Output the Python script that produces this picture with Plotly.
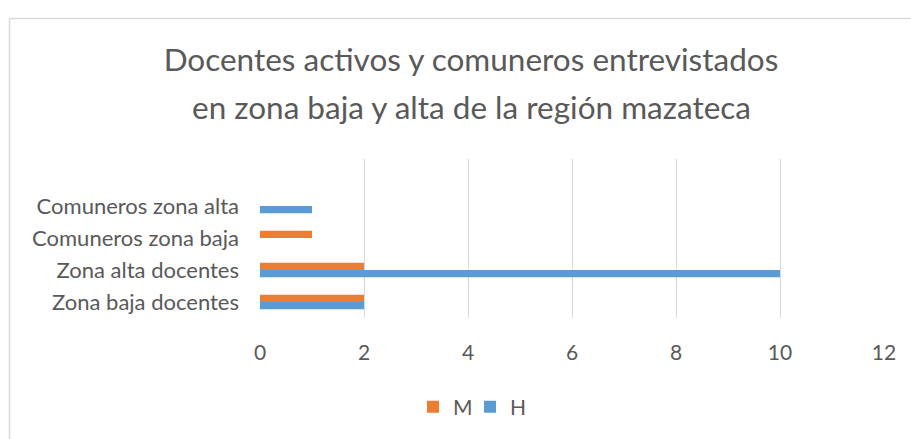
import plotly.graph_objects as go

categories = ["Zona baja docentes", "Zona alta docentes", "Comuneros zona baja", "Comuneros zona alta"]
M_values = [2, 2, 1, 0]
H_values = [2, 10, 0, 1]
x_ticks = [0, 2, 4, 6, 8, 10, 12]
title_lines = ["Docentes activos y comuneros entrevistados",
               "en zona baja y alta de la región mazateca"]

ORANGE = "#ED7D31"
BLUE = "#5B9BD5"
TEXT = "#595959"
FONT = "Lato"

fig = go.Figure()
fig.add_trace(go.Bar(name="H", y=categories, x=H_values, orientation="h",
                     marker=dict(color=BLUE, line=dict(width=0))))
fig.add_trace(go.Bar(name="M", y=categories, x=M_values, orientation="h",
                     marker=dict(color=ORANGE, line=dict(width=0))))

W, H = 911, 439
L, R, T, B = 260, 884, 159, 323

def px_x(p):
    return (p - L) / (R - L)

def px_y(p):
    return (B - p) / (B - T)

fig.update_layout(
    width=W, height=H,
    margin=dict(l=L, r=W - R, t=T, b=H - B),
    paper_bgcolor="white", plot_bgcolor="white",
    barmode="group", bargap=0.55, bargroupgap=0,
    font=dict(family=FONT, color=TEXT, size=22),
    title=dict(text=title_lines[0],
               x=471 / W, xanchor="center", y=1 - 60 / H, yanchor="middle",
               font=dict(family=FONT, size=31.5, color=TEXT)),
    xaxis=dict(range=[0, 12], tickvals=x_ticks, showgrid=True, gridcolor="#D9D9D9",
               gridwidth=1, zeroline=False, showline=False, ticks="",
               ticklabelstandoff=20,
               tickfont=dict(size=21, color=TEXT), fixedrange=True),
    yaxis=dict(type="category", categoryorder="array", categoryarray=categories,
               range=[-0.5, 4.47], showgrid=False, zeroline=False, showline=False,
               ticks="", ticklabelstandoff=20,
               tickfont=dict(size=22, color=TEXT), fixedrange=True),
    legend=dict(orientation="h", x=px_x(413), xanchor="left", y=px_y(415), yanchor="middle",
                traceorder="reversed", font=dict(size=21, color=TEXT),
                itemwidth=30, entrywidth=12, entrywidthmode="pixels",
                bgcolor="rgba(0,0,0,0)"),
    showlegend=True,
)

fig.add_annotation(text=title_lines[1], xref="paper", yref="paper",
                   x=px_x(471), y=px_y(105), xanchor="center", yanchor="middle",
                   showarrow=False, font=dict(family=FONT, size=31.5, color=TEXT))

fig.add_shape(type="line", xref="paper", yref="paper",
              x0=px_x(9.5), x1=px_x(9.5), y0=px_y(14), y1=px_y(470),
              line=dict(color="#D9D9D9", width=1.5))
fig.add_shape(type="line", xref="paper", yref="paper",
              x0=px_x(9.5), x1=px_x(940), y0=px_y(14), y1=px_y(14),
              line=dict(color="#D9D9D9", width=1.5))

fig.write_html("out.html", config={"displayModeBar": False},
               post_script="document.body.style.margin='0';document.body.style.overflow='hidden';")
